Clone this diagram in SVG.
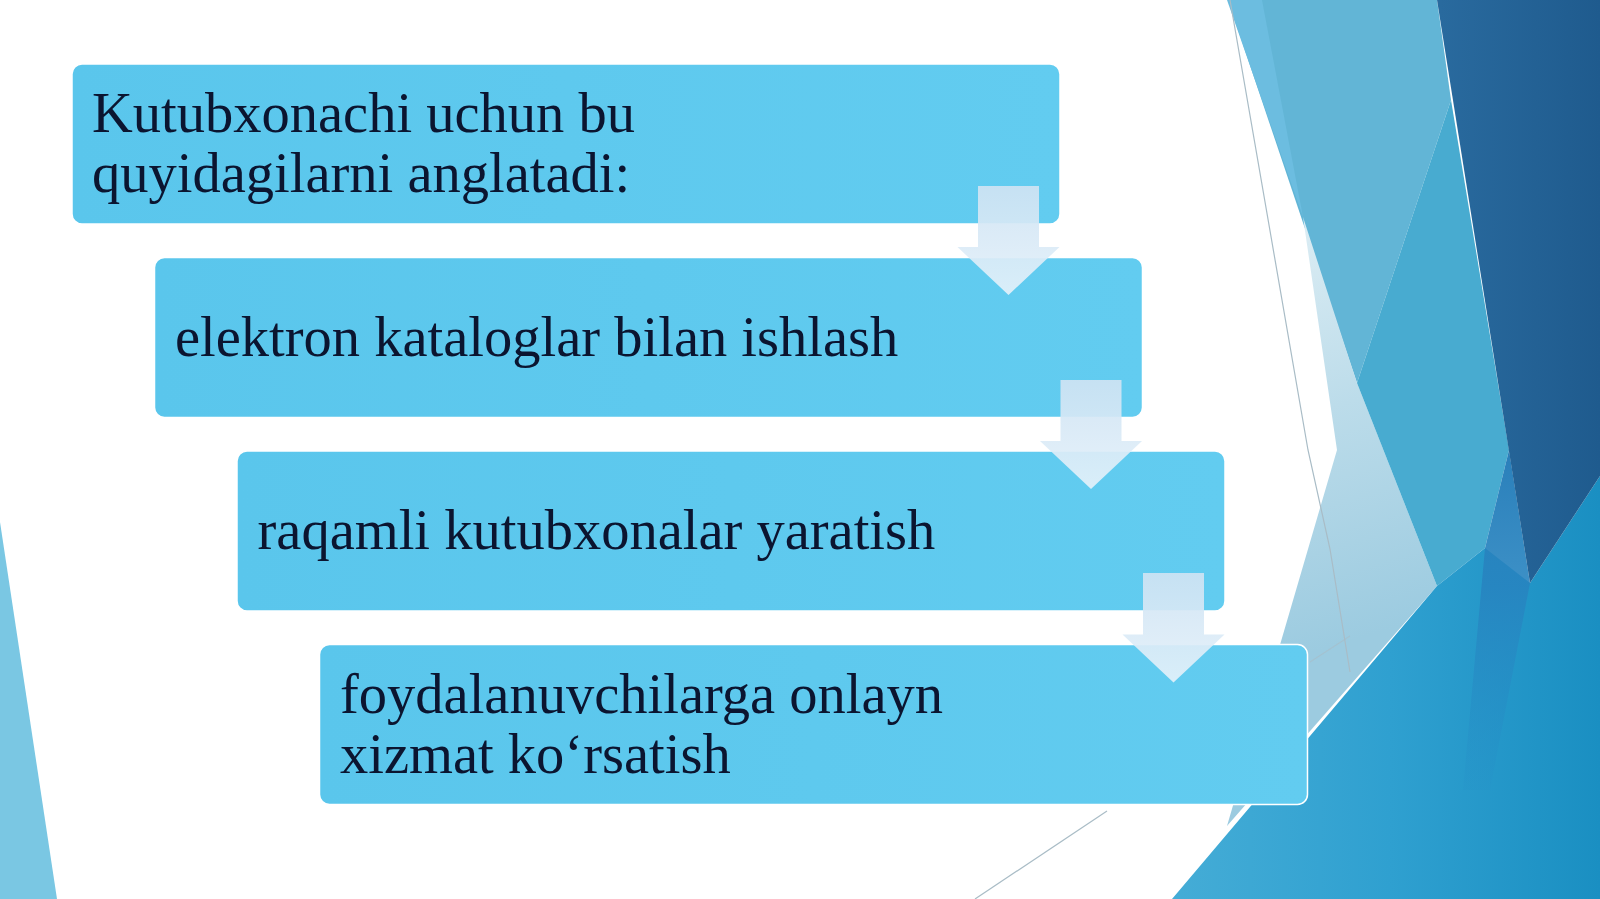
<svg xmlns="http://www.w3.org/2000/svg" width="1600" height="899" viewBox="0 0 1600 899">
  <defs>
    <linearGradient id="gPale" x1="1300" y1="220" x2="1420" y2="620" gradientUnits="userSpaceOnUse">
      <stop offset="0" stop-color="#dcedf4"/>
      <stop offset="0.45" stop-color="#bcdcea"/>
      <stop offset="1" stop-color="#9ccbe0"/>
    </linearGradient>
    <linearGradient id="gDark" x1="1440" y1="0" x2="1600" y2="0" gradientUnits="userSpaceOnUse">
      <stop offset="0" stop-color="#296a9e"/>
      <stop offset="1" stop-color="#1f5b8e"/>
    </linearGradient>
    <linearGradient id="gBright" x1="1180" y1="0" x2="1600" y2="0" gradientUnits="userSpaceOnUse">
      <stop offset="0" stop-color="#44acd6"/>
      <stop offset="0.5" stop-color="#2fa0d0"/>
      <stop offset="1" stop-color="#1a8fc2"/>
    </linearGradient>
    <linearGradient id="gStripe" x1="0" y1="450" x2="0" y2="790" gradientUnits="userSpaceOnUse">
      <stop offset="0" stop-color="#2a7fba" stop-opacity="1"/>
      <stop offset="0.4" stop-color="#2784c0" stop-opacity="0.9"/>
      <stop offset="1" stop-color="#2590c8" stop-opacity="0.2"/>
    </linearGradient>
    <linearGradient id="gArrow" x1="0" y1="0" x2="0" y2="1">
      <stop offset="0" stop-color="#cfe3f3"/>
      <stop offset="1" stop-color="#e4f1fa"/>
    </linearGradient>
    <linearGradient id="gBox" x1="0" y1="0" x2="1" y2="0">
      <stop offset="0" stop-color="#5ac6ec"/>
      <stop offset="1" stop-color="#62ccf0"/>
    </linearGradient>
  </defs>
  <style>
    .box { fill: url(#gBox); stroke: #ffffff; stroke-width: 1.5; }
    .lbl { font-family: "Liberation Serif", "Times New Roman", serif; font-size: 56.5px; fill: #0b1530; }
    .arrow { fill: url(#gArrow); opacity: 0.92; }
    .thin { fill: none; stroke: #a9bcc6; stroke-width: 1.2; }
  </style>

  <g id="background">
    <rect x="0" y="0" width="1600" height="899" fill="#ffffff"/>
    <polygon points="0,522 57,899 0,899" fill="#7ac7e3"/>
    <polygon points="1228,0 1437,0 1451,100 1357,383" fill="#62b5d6"/>
    <polygon points="1227,0 1262,0 1303,217" fill="#6cbde0"/>
    <polygon points="1303,217 1357,383 1437,586 1227,826 1337,450" fill="url(#gPale)"/>
    <polygon points="1451,100 1509,450 1485,548 1437,586 1357,383" fill="#48abd0"/>
    <polygon points="1172,899 1437,586 1485,548 1530,583 1600,476 1600,899" fill="url(#gBright)"/>
    <polygon points="1509,450 1530,583 1490,790 1463,790 1485,548" fill="url(#gStripe)"/>
    <polygon points="1437,0 1600,0 1600,476 1530,583" fill="url(#gDark)"/>
    <polyline class="thin" points="1230,0 1308,450 1330,549 1350,672"/>
    <line class="thin" x1="1350" y1="636" x2="1310" y2="662" opacity="0.6"/>
    <line class="thin" x1="1107" y1="811" x2="975" y2="899" stroke="#c2d3dc"/>
  </g>

  <g id="node1">
    <rect class="box" x="72" y="64" width="988" height="160" rx="10"/>
    <text class="lbl" x="92" y="132">Kutubxonachi uchun bu</text>
    <text class="lbl" x="92" y="192">quyidagilarni anglatadi:</text>
  </g>
  <g id="node2">
    <rect class="box" x="154.5" y="257.5" width="988" height="160" rx="10"/>
    <text class="lbl" x="175" y="356">elektron kataloglar bilan ishlash</text>
  </g>
  <g id="node3">
    <rect class="box" x="237" y="451" width="988" height="160" rx="10"/>
    <text class="lbl" x="257.5" y="549">raqamli kutubxonalar yaratish</text>
  </g>
  <g id="node4">
    <rect class="box" x="319.5" y="644.5" width="988" height="160" rx="10"/>
    <text class="lbl" x="340" y="712.5">foydalanuvchilarga onlayn</text>
    <text class="lbl" x="340" y="772.5">xizmat ko‘rsatish</text>
  </g>

  <g id="connectors">
    <polygon class="arrow" points="978,186 1039,186 1039,247 1059.5,247 1008.5,295 957.5,247 978,247"/>
    <polygon class="arrow" points="1060.5,380 1121.5,380 1121.5,441 1142,441 1091,489 1040,441 1060.5,441"/>
    <polygon class="arrow" points="1143,573 1204,573 1204,634.5 1224.5,634.5 1173.5,682.5 1122.5,634.5 1143,634.5"/>
  </g>
</svg>
